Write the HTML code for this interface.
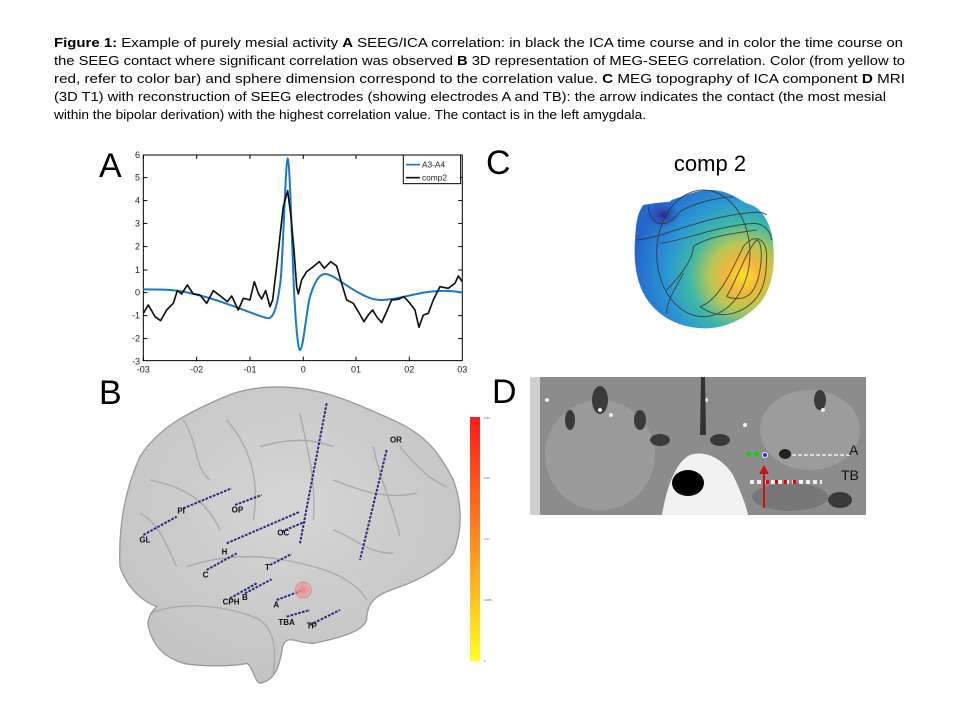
<!DOCTYPE html>
<html><head><meta charset="utf-8"><style>
html,body{margin:0;padding:0;background:#fff;}
svg{display:block;}
</style></head><body>
<svg width="960" height="720" viewBox="0 0 960 720" xmlns="http://www.w3.org/2000/svg" font-family="'Liberation Sans', sans-serif">
<defs>
<radialGradient id="topo" cx="0.78" cy="0.62" r="0.8">
<stop offset="0" stop-color="#f9e11e"/>
<stop offset="0.15" stop-color="#f5b63a"/>
<stop offset="0.3" stop-color="#b8c755"/>
<stop offset="0.48" stop-color="#3fb8a6"/>
<stop offset="0.7" stop-color="#2a95d5"/>
<stop offset="1" stop-color="#2565cc"/>
</radialGradient>
<radialGradient id="dark" cx="0.5" cy="0.5" r="0.5">
<stop offset="0" stop-color="#2a2a8a"/>
<stop offset="1" stop-color="#2a4ec0" stop-opacity="0"/>
</radialGradient>
<linearGradient id="cbar" x1="0" y1="0" x2="0" y2="1">
<stop offset="0" stop-color="#ff1a1a"/>
<stop offset="0.5" stop-color="#ff8a20"/>
<stop offset="1" stop-color="#ffff20"/>
</linearGradient>
<radialGradient id="brain" cx="0.5" cy="0.4" r="0.65">
<stop offset="0" stop-color="#d6d6d6"/>
<stop offset="1" stop-color="#c2c2c2"/>
</radialGradient>
<radialGradient id="sph" cx="0.5" cy="0.5" r="0.5">
<stop offset="0" stop-color="#e88"/>
<stop offset="1" stop-color="#e99" stop-opacity="0.5"/>
</radialGradient>
</defs>

<!-- caption -->
<g font-family="'Liberation Sans', sans-serif" font-size="12.5" fill="#000">
<text x="54" y="47" textLength="849" lengthAdjust="spacingAndGlyphs"><tspan font-weight="bold">Figure 1:</tspan> Example of purely mesial activity <tspan font-weight="bold">A</tspan> SEEG/ICA correlation: in black the ICA time course and in color the time course on</text>
<text x="54" y="65" textLength="851" lengthAdjust="spacingAndGlyphs">the SEEG contact where significant correlation was observed <tspan font-weight="bold">B</tspan> 3D representation of MEG-SEEG correlation. Color (from yellow to</text>
<text x="54" y="83" textLength="851" lengthAdjust="spacingAndGlyphs">red, refer to color bar) and sphere dimension correspond to the correlation value. <tspan font-weight="bold">C</tspan> MEG topography of ICA component    <tspan font-weight="bold">D</tspan> MRI</text>
<text x="54" y="101" textLength="832" lengthAdjust="spacingAndGlyphs">(3D T1) with reconstruction of SEEG electrodes (showing electrodes A and TB): the arrow indicates the contact (the most mesial</text>
<text x="54" y="119" textLength="592" lengthAdjust="spacingAndGlyphs">within the bipolar derivation) with the highest correlation value. The contact is in the left amygdala.</text>
</g>

<!-- panel letters -->
<g font-size="34" fill="#000">
<text x="99" y="177">A</text>
<text x="99" y="404">B</text>
<text x="486" y="174">C</text>
<text x="492" y="403">D</text>
</g>

<!-- Panel A chart (zoom coords) -->
<g transform="translate(90,140) scale(0.3333)">
<rect x="160" y="45" width="957" height="617" fill="#fff" stroke="#000" stroke-width="3"/>
<g stroke="#000" stroke-width="3">
<path d="M160,45v12M320,45v12M480,45v12M640,45v12M798,45v12M958,45v12M160,662v-12M320,662v-12M480,662v-12M640,662v-12M798,662v-12M958,662v-12"/>
<path d="M160,113h12M160,182h12M160,250h12M160,320h12M160,390h12M160,458h12M160,527h12M160,596h12M1117,113h-12M1117,182h-12M1117,250h-12M1117,320h-12M1117,390h-12M1117,458h-12M1117,527h-12M1117,596h-12"/>
</g>
<g font-size="27" fill="#222" text-anchor="end">
<text x="150" y="54">6</text><text x="150" y="122">5</text><text x="150" y="191">4</text><text x="150" y="259">3</text><text x="150" y="329">2</text><text x="150" y="399">1</text><text x="150" y="467">0</text><text x="150" y="536">-1</text><text x="150" y="605">-2</text><text x="150" y="673">-3</text>
</g>
<g font-size="27" fill="#222" text-anchor="middle">
<text x="160" y="697">-03</text><text x="320" y="697">-02</text><text x="480" y="697">-01</text><text x="640" y="697">0</text><text x="798" y="697">01</text><text x="958" y="697">02</text><text x="1117" y="697">03</text>
</g>
<path fill="none" stroke="#1a78c8" stroke-width="6" stroke-linejoin="round" d="M160,448 C200,448 240,448 280,455 C330,465 380,480 420,495 C470,512 510,530 535,535 C552,532 562,500 572,420 C580,330 587,60 593,55 C600,60 605,300 612,450 C618,560 624,630 630,630 C640,628 648,520 660,470 C675,420 690,402 705,402 C725,402 750,425 800,455 C830,472 850,480 875,480 C905,480 940,470 1000,458 C1050,450 1090,452 1117,458"/>
<path fill="none" stroke="#111" stroke-width="5" stroke-linejoin="round" d="M160,520 L175,495 L195,530 L212,542 L230,510 L250,490 L262,452 L275,462 L292,435 L310,462 L330,465 L350,490 L370,452 L390,467 L412,485 L425,468 L445,510 L460,475 L480,480 L493,425 L505,460 L515,477 L527,452 L540,500 L548,480 L560,380 L572,270 L580,200 L593,152 L603,230 L612,330 L620,440 L625,462 L635,420 L650,395 L670,380 L688,365 L703,385 L722,365 L740,378 L755,430 L770,480 L790,490 L805,515 L822,545 L835,525 L848,510 L860,530 L875,548 L890,515 L905,480 L925,478 L942,470 L960,490 L975,510 L987,562 L1000,525 L1015,520 L1030,480 L1050,440 L1075,445 L1095,430 L1105,408 L1117,425"/>
<rect x="940" y="45" width="172" height="86" fill="#fff" stroke="#000" stroke-width="3"/>
<line x1="948" y1="74" x2="990" y2="74" stroke="#1a78c8" stroke-width="5"/>
<line x1="948" y1="113" x2="990" y2="113" stroke="#111" stroke-width="5"/>
<text x="996" y="83" font-size="25" fill="#222">A3-A4</text>
<text x="996" y="122" font-size="25" fill="#222">comp2</text>
</g>

<!-- Panel B brain (zoom coords) -->
<g transform="translate(100,380) scale(0.3333)">
<path fill="url(#brain)" stroke="#9a9a9a" stroke-width="4" d="M60,560 C55,450 70,340 120,230 C170,150 250,100 400,40 C480,15 560,20 600,25 C680,35 750,60 900,130 C980,170 1020,220 1060,300 C1090,380 1085,460 1060,520 C1030,560 960,600 900,620 C850,640 800,650 800,720 C790,750 740,770 640,790 C590,790 560,760 548,800 C540,850 530,900 480,910 C460,900 460,860 440,850 C400,860 300,860 250,850 C190,830 160,800 145,740 C140,710 160,690 170,680 C120,660 80,620 60,560 Z"/>
<g fill="none" stroke="#a0a0a0" stroke-width="4" opacity="0.8">
<path d="M150,700 C250,660 400,680 480,720 C520,750 530,800 520,880"/>
<path d="M260,560 C380,520 500,520 640,560 C720,580 780,620 800,660"/>
<path d="M380,120 C450,200 480,300 460,420"/>
<path d="M600,100 C620,200 650,300 640,420"/>
<path d="M820,200 C840,300 880,380 900,470"/>
<path d="M150,300 C250,320 320,360 360,450"/>
<path d="M480,200 C550,180 620,170 700,200"/>
<path d="M700,300 C780,330 850,360 950,340"/>
<path d="M250,120 C300,200 280,260 330,300"/>
<path d="M900,200 C950,260 990,300 1040,320"/>
<path d="M120,400 C180,430 200,500 230,560"/>
<path d="M700,450 C760,470 800,520 880,520"/>
</g>
<g stroke="#2a2a80" stroke-width="6" stroke-dasharray="8,4">
<path d="M680,70 L600,490"/>
<path d="M860,210 L780,540"/>
<path d="M250,385 L395,325"/>
<path d="M405,375 L485,345"/>
<path d="M130,465 L230,410"/>
<path d="M545,455 L615,425"/>
<path d="M380,490 L600,395"/>
<path d="M320,570 L410,520"/>
<path d="M510,555 L575,522"/>
<path d="M390,655 L470,610"/>
<path d="M435,640 L515,598"/>
<path d="M530,660 L610,630"/>
<path d="M560,710 L630,690"/>
<path d="M630,735 L720,690"/>
</g>
<circle cx="610" cy="630" r="24" fill="url(#sph)" stroke="#d77" stroke-width="2"/>
<g font-size="24" font-weight="bold" fill="#111">
<text x="870" y="188">OR</text><text x="232" y="400">PI</text><text x="395" y="397">OP</text><text x="118" y="488">GL</text><text x="532" y="467">OC</text><text x="365" y="523">H</text><text x="495" y="570">T</text><text x="308" y="593">C</text><text x="368" y="674">CPH</text><text x="426" y="660">B</text><text x="520" y="683">A</text><text x="535" y="735">TBA</text><text x="620" y="746">TP</text>
</g>
</g>
<!-- colorbar -->
<rect x="470" y="417" width="10" height="244" fill="url(#cbar)"/>
<g font-size="3" fill="#555"><text x="484" y="419">0.34</text><text x="484" y="479">0.26</text><text x="484" y="540">0.17</text><text x="484" y="601">0.085</text><text x="484" y="662">0</text></g>

<!-- Panel C -->
<text x="710" y="171" font-size="22" text-anchor="middle" fill="#000">comp 2</text>
<g transform="translate(480,140) scale(0.3333)">
<path fill="url(#topo)" d="M490,195 C520,190 540,188 570,185 L575,180 C620,165 650,150 690,150 C730,150 760,165 790,185 L800,190 C840,200 860,230 875,280 C890,360 880,440 840,490 C790,540 740,562 680,565 C610,565 550,540 510,490 C470,440 460,370 465,300 C468,240 475,215 490,195 Z"/>
<ellipse cx="550" cy="225" rx="50" ry="40" fill="url(#dark)"/>
<g fill="none" stroke="#333" stroke-width="3" opacity="0.8">
<ellipse cx="670" cy="340" rx="140" ry="190"/>
<path d="M505,200 C510,260 560,270 600,215 C640,190 700,175 760,170"/>
<path d="M470,300 C560,290 640,240 790,220 C830,215 850,215 860,225"/>
<path d="M540,310 C620,300 700,260 820,250 C850,250 870,270 875,300"/>
<path d="M560,450 C610,400 640,350 640,320 C680,290 760,280 830,270"/>
<path d="M660,500 C720,480 760,380 790,320 C820,280 860,290 860,350 C860,420 850,490 760,520 C720,530 690,520 660,500"/>
<path d="M740,470 C770,420 800,330 830,300 C850,300 850,400 820,450 C800,480 770,480 740,470"/>
<path d="M560,520 C560,480 590,440 610,400"/>
</g>
</g>

<!-- Panel D MRI -->
<g>
<rect x="530" y="377" width="336" height="138" fill="#8c8c8c"/>
<rect x="530" y="377" width="10" height="138" fill="#d0d0d0"/>
<ellipse cx="600" cy="455" rx="55" ry="55" fill="#9a9a9a"/>
<ellipse cx="810" cy="430" rx="50" ry="40" fill="#9c9c9c"/>
<g fill="#3a3a3a">
<ellipse cx="600" cy="400" rx="8" ry="14"/><ellipse cx="640" cy="420" rx="6" ry="10"/><ellipse cx="660" cy="440" rx="10" ry="6"/><ellipse cx="720" cy="440" rx="10" ry="6"/><ellipse cx="570" cy="420" rx="5" ry="10"/><ellipse cx="820" cy="400" rx="6" ry="10"/><ellipse cx="840" cy="500" rx="12" ry="8"/>
</g>
<g fill="#eee"><circle cx="547" cy="400" r="2"/><circle cx="600" cy="410" r="2"/><circle cx="611" cy="415" r="2"/><circle cx="706" cy="400" r="2"/><circle cx="745" cy="425" r="2"/><circle cx="823" cy="410" r="2"/></g>
<path d="M701,377 L705,377 L706,435 L700,435 Z" fill="#333"/>
<path d="M662,515 C666,490 675,462 690,455 C705,450 722,458 733,475 C740,490 746,505 748,515 Z" fill="#f2f2f2"/>
<ellipse cx="688" cy="483" rx="16" ry="13" fill="#000"/>
<ellipse cx="790" cy="497" rx="38" ry="14" fill="#777"/>
<path d="M780,455 L850,455" stroke="#d8d8d8" stroke-width="2" stroke-dasharray="4,2"/>
<rect x="747" y="452" width="4" height="4" fill="#0d0"/><rect x="755" y="452" width="4" height="4" fill="#0d0"/>
<circle cx="765" cy="455" r="2.5" fill="#22f" stroke="#fff" stroke-width="1"/>
<ellipse cx="785" cy="454" rx="6" ry="5" fill="#222"/>
<path d="M750,482 L822,482" stroke="#eee" stroke-width="4" stroke-dasharray="4,3"/>
<rect x="766" y="480" width="3" height="4" fill="#e00"/><rect x="775" y="480" width="3" height="4" fill="#e00"/><rect x="784" y="480" width="3" height="4" fill="#e00"/><rect x="793" y="480" width="3" height="4" fill="#e00"/>
<line x1="764" y1="508" x2="764" y2="472" stroke="#d01010" stroke-width="2"/>
<path d="M759,474 L764,465 L769,474 Z" fill="#d01010"/>
<text x="849" y="455" font-size="14" fill="#111">A</text>
<text x="841" y="480" font-size="14" fill="#111">TB</text>
</g>
</svg>
</body></html>
